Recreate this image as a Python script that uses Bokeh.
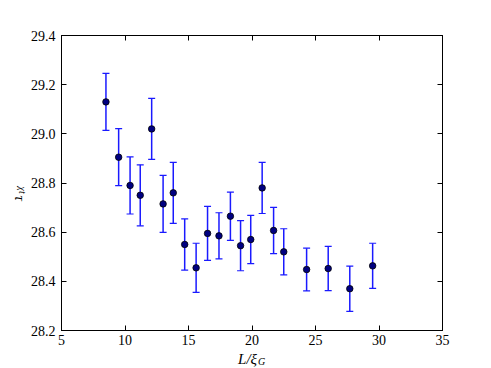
import numpy as np
from bokeh.plotting import figure
from bokeh.layouts import row, column
from bokeh.models import ColumnDataSource, Whisker, TeeHead, LinearAxis, Range1d, FixedTicker
from bokeh.core.properties import value
from bokeh.embed import file_html
from bokeh.resources import INLINE

L = [8.5, 9.5, 10.4, 11.2, 12.1, 13.0, 13.8, 14.7, 15.6, 16.5, 17.4, 18.3, 19.1, 19.9, 20.8, 21.7, 22.5, 24.3, 26.0, 27.7, 29.5]
tau = [29.13, 28.905, 28.79, 28.75, 29.02, 28.715, 28.76, 28.55, 28.455, 28.595, 28.585, 28.665,
       28.545, 28.57, 28.78, 28.607, 28.52, 28.448, 28.452, 28.37, 28.463]
err = [0.116, 0.116, 0.116, 0.124, 0.124, 0.116, 0.124, 0.104, 0.1, 0.11, 0.094, 0.098,
       0.102, 0.098, 0.104, 0.094, 0.094, 0.087, 0.09, 0.092, 0.092]
x_ticks = [5, 10, 15, 20, 25, 30, 35]
y_ticks = [28.2, 28.4, 28.6, 28.8, 29.0, 29.2, 29.4]

FONT = "Liberation Serif"
ML, MR, MT, MB = 35, 42, 35, 18
W, H = 458, 348
HX = 19
HT = H + HX

src = ColumnDataSource(dict(
    x=L, y=tau,
    lo=[t - e for t, e in zip(tau, err)],
    hi=[t + e for t, e in zip(tau, err)],
))

p = figure(width=W, height=H, output_backend="svg", toolbar_location=None,
           x_range=Range1d(5, 35), y_range=Range1d(28.2, 29.4),
           min_border_left=ML, min_border_right=MR, min_border_top=MT, min_border_bottom=MB)
p.grid.visible = False
p.outline_line_color = "black"
p.outline_line_width = 1
p.background_fill_color = "white"
p.border_fill_color = "white"

for ax in (p.xaxis[0], p.yaxis[0]):
    ax.major_tick_in = 5
    ax.major_tick_out = 0
    ax.minor_tick_line_color = None
    ax.axis_line_color = "black"
    ax.major_label_text_font = FONT
    ax.major_label_text_font_size = "14px"
    ax.major_label_text_color = "black"
p.xaxis[0].ticker = FixedTicker(ticks=x_ticks)
p.yaxis[0].ticker = FixedTicker(ticks=y_ticks)
p.yaxis[0].major_label_overrides = {v: f"{v:.1f}" for v in y_ticks}
p.xaxis[0].major_label_standoff = 4
p.yaxis[0].major_label_standoff = 6

top = LinearAxis(ticker=FixedTicker(ticks=x_ticks), major_label_text_font_size="0px",
                 major_tick_in=5, major_tick_out=0, minor_tick_line_color=None,
                 major_label_text_color=None)
right = LinearAxis(ticker=FixedTicker(ticks=y_ticks), major_label_text_font_size="0px",
                   major_tick_in=5, major_tick_out=0, minor_tick_line_color=None,
                   major_label_text_color=None)
p.add_layout(top, "above")
p.add_layout(right, "right")

w = Whisker(source=src, base="x", lower="lo", upper="hi",
            line_color="#1a1aff", line_width=1.5,
            upper_head=TeeHead(size=7, line_color="#1a1aff", line_width=1.2),
            lower_head=TeeHead(size=7, line_color="#1a1aff", line_width=1.2))
p.add_layout(w)

p.scatter("x", "y", source=src, size=6.5, fill_color="#000080", line_color="black", line_width=0.8)


def label_fig(width, height, x_range, y_range, ml=0, mr=0):
    f = figure(width=width, height=height, output_backend="svg", toolbar_location=None,
               x_range=x_range, y_range=y_range, x_axis_type=None, y_axis_type=None,
               min_border_left=ml, min_border_right=mr, min_border_top=0, min_border_bottom=0)
    f.grid.visible = False
    f.outline_line_color = None
    f.border_fill_color = "white"
    return f


# x-axis label  L/ξ_G
lx = label_fig(W, HX, p.x_range, Range1d(0, HX), ml=ML, mr=MR)
lx.text(x=[20], y=[9], text=["L/ξ"], text_font=value(FONT), text_font_style="italic",
        text_font_size="15px", text_align="right", text_baseline="alphabetic",
        x_offset=5, text_color="black")
lx.text(x=[20], y=[6], text=["G"], text_font=value(FONT), text_font_style="italic",
        text_font_size="10px", text_align="left", text_baseline="alphabetic",
        x_offset=6, text_color="black")

# y-axis label  τ_χt (reads bottom to top)
ly = label_fig(26, HT, Range1d(0, 26), Range1d(0, HT))
ly.text(x=[19], y=[HT - 195], text=["τ"], text_font=value(FONT), text_font_style="italic",
        text_font_size="15px", text_align="left", text_baseline="alphabetic",
        angle=-np.pi / 2, text_color="black")
ly.text(x=[21.5], y=[HT - 186], text=["χt"], text_font=value(FONT), text_font_style="italic",
        text_font_size="10px", text_align="left", text_baseline="alphabetic",
        angle=-np.pi / 2, text_color="black")

layout = row(ly, column(p, lx))

open("out.html", "w").write(file_html(layout, INLINE))
